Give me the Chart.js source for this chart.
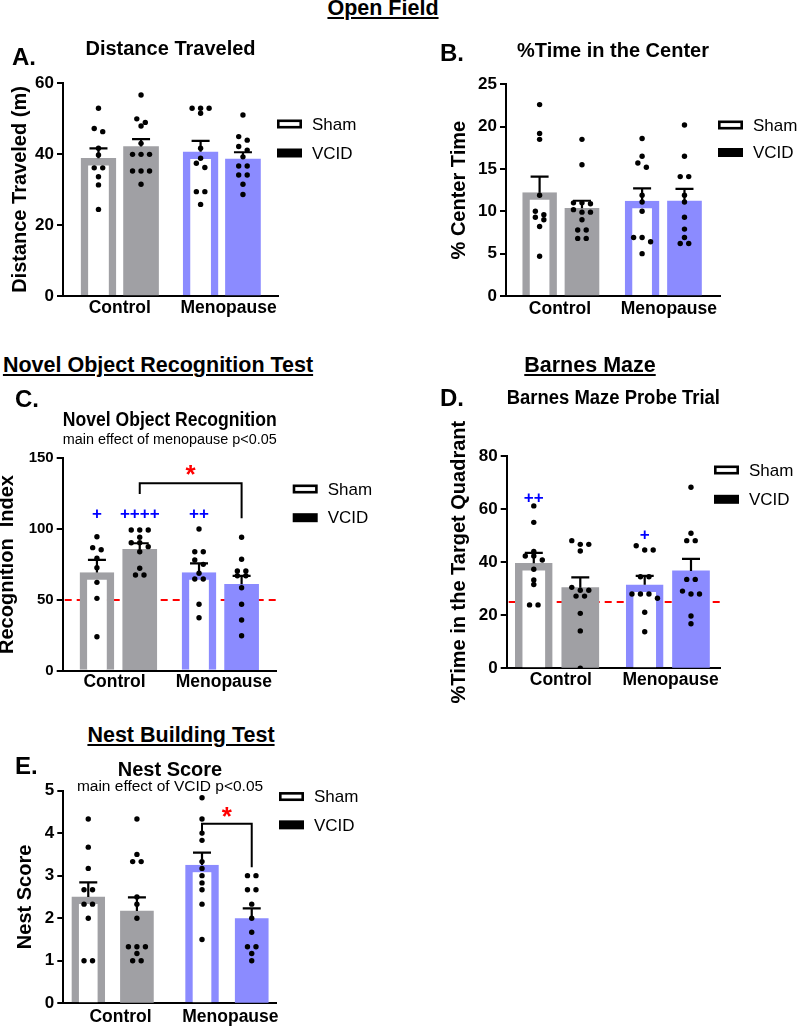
<!DOCTYPE html>
<html>
<head>
<meta charset="utf-8">
<script src="https://cdn.jsdelivr.net/npm/chart.js@4.4.1/dist/chart.umd.min.js"></script>
<style>
html,body{margin:0;padding:0;background:#fff}
body{width:797px;height:1026px;position:relative;overflow:hidden;font-family:'Liberation Sans',Arial,sans-serif;color:#000}
canvas{position:absolute}
.hd{position:absolute;transform:translateX(-50%);font-weight:bold;font-size:21.5px;line-height:1;white-space:nowrap;
  text-decoration:underline;text-decoration-thickness:2px;text-underline-offset:2px}
.lt{position:absolute;font-weight:bold;font-size:24px;line-height:1}
</style>
</head>
<body>
<canvas id="cA" width="400" height="300" style="left:0;top:30px"></canvas>
<canvas id="cB" width="357" height="300" style="left:440px;top:30px"></canvas>
<canvas id="cC" width="405" height="305" style="left:-5px;top:395px"></canvas>
<canvas id="cD" width="357" height="340" style="left:440px;top:375px"></canvas>
<canvas id="cE" width="400" height="274" style="left:0;top:752px"></canvas>

<div class="hd" style="left:383px;top:-2px">Open Field</div>
<div class="hd" style="left:158px;top:355px">Novel Object Recognition Test</div>
<div class="hd" style="left:590px;top:355px">Barnes Maze</div>
<div class="hd" style="left:181px;top:725px">Nest Building Test</div>
<div class="lt" style="left:12px;top:45px">A.</div>
<div class="lt" style="left:440px;top:41px">B.</div>
<div class="lt" style="left:15px;top:387px">C.</div>
<div class="lt" style="left:440px;top:386px">D.</div>
<div class="lt" style="left:15px;top:754px">E.</div>

<script>
// slots: Control-Sham, Control-VCID, Menopause-Sham, Menopause-VCID
var groups = ['Control', 'Menopause'];
var series = ['Sham', 'VCID'];

// A. distance traveled (m)
var distMean = [38.8, 42.1, 40.6, 38.6];
var distSem = [2.8, 2.1, 3.1, 1.9];
var distPts = [
  [52.9, 47.2, 46.3, 41.6, 39.7, 36.1, 36.1, 33.6, 31.3, 24.4],
  [56.6, 49.9, 48.9, 47.9, 43.0, 39.9, 39.9, 39.9, 35.2, 35.2, 35.2, 31.5],
  [52.9, 52.9, 52.9, 51.5, 41.6, 38.8, 37.4, 36.2, 29.4, 29.4, 25.8],
  [51.0, 44.9, 43.9, 42.1, 41.1, 39.2, 36.6, 36.6, 34.1, 34.1, 31.5, 28.6]
];

// B. % time in the center
var centerMean = [12.2, 10.35, 11.2, 11.2];
var centerSem = [1.9, 0.9, 1.5, 1.45];
var centerPts = [
  [22.6, 19.2, 18.5, 11.9, 10.0, 9.6, 9.3, 9.0, 8.2, 4.7],
  [18.5, 15.5, 11.0, 11.0, 10.9, 10.2, 9.9, 9.9, 9.0, 7.8, 7.8, 6.8, 6.8],
  [18.6, 16.5, 15.7, 15.2, 11.9, 11.1, 10.0, 6.9, 6.9, 6.4, 5.0],
  [20.2, 16.5, 14.1, 14.1, 11.9, 11.1, 9.3, 7.9, 6.9, 6.2, 6.2]
];

// C. novel object recognition index
var norMean = [69.3, 85.7, 69.3, 61.0];
var norSem = [8.9, 4.3, 6.5, 5.9];
var norPts = [
  [94.6, 86.9, 85.4, 79.4, 72.7, 62.4, 51.1, 24.0],
  [99.4, 99.4, 99.4, 94.2, 90.4, 90.4, 87.6, 84.0, 72.3, 67.6, 67.6],
  [100.1, 84.0, 84.0, 78.2, 75.1, 68.8, 64.8, 64.8, 46.9, 37.4],
  [94.2, 78.7, 70.4, 70.4, 67.1, 67.1, 58.6, 46.9, 35.8, 24.7]
];
var norChance = 50;
var norPlus = ['+', '++++', '++', ''];
var norPlusY = [110.4, 110.4, 110.4, null];
var norBracket = [1, 3];
var norBracketY = [124.8, 132.3, 107.6];   // left leg end, top, right leg end
var norStarY = 141.8;

// D. barnes maze, % time in target quadrant
var barnesMean = [39.6, 30.4, 31.5, 36.7];
var barnesSem = [3.9, 3.9, 3.3, 4.5];
var barnesPts = [
  [61.2, 55.0, 44.0, 42.3, 42.3, 40.8, 37.3, 33.3, 31.6, 23.9, 23.9],
  [48.1, 46.7, 46.7, 44.2, 30.5, 29.4, 29.4, 27.2, 27.2, 20.7, 14.1, 0],
  [46.2, 44.6, 44.6, 34.5, 34.5, 28.0, 28.0, 28.0, 26.4, 21.1, 13.8],
  [68.2, 50.9, 48.1, 48.1, 33.5, 33.5, 29.1, 28.0, 28.0, 19.7, 16.8]
];
var barnesChance = 25;
var barnesPlus = ['++', '', '+', ''];
var barnesPlusY = [64.0, null, 50.2, null];

// E. nest score
var nestMean = [2.5, 2.17, 3.25, 1.99];
var nestSem = [0.34, 0.32, 0.29, 0.24];
var nestPts = [
  [4.33, 3.67, 3.17, 2.67, 2.67, 2.33, 2.33, 2.0, 1.0, 1.0],
  [4.33, 3.5, 3.33, 3.33, 2.5, 2.33, 2.0, 1.33, 1.33, 1.33, 1.17, 1.0, 1.0],
  [4.83, 4.33, 4.0, 3.83, 3.33, 3.17, 3.0, 2.83, 2.67, 2.33, 1.5],
  [3.0, 3.0, 2.67, 2.67, 2.33, 2.0, 1.67, 1.33, 1.33, 1.17, 1.0]
];
var nestBracket = [2, 3];
var nestBracketY = [3.95, 4.22, 3.2];
var nestStarY = 4.49;

var FONT = "'Liberation Sans', Arial, Helvetica, sans-serif";
var GRAY = '#a0a0a4', BLUE = '#8b8bff', RED = '#ff0000', PLUS = '#0000ff';
var SLOT_COLORS = [GRAY, GRAY, BLUE, BLUE];
var ROW_GAP = 4.5, STEP = 8.5;

Chart.defaults.font.family = FONT;
Chart.defaults.color = '#000';

// GraphPad-like scatter: points at nearly the same height go side by side
function swarm(chart) {
  var xs = chart.scales.x, ys = chart.scales.y;
  chart.data.datasets.forEach(function (ds) {
    if (ds.type !== 'scatter') return;
    var cx = xs.getPixelForValue(ds.slot);
    var pts = ds.values.map(function (v) { return { v: v, py: ys.getPixelForValue(v) }; })
      .sort(function (a, b) { return a.py - b.py; });
    var rows = [], row = null;
    pts.forEach(function (p) {
      if (!row || p.py - row[0].py > ROW_GAP) { row = [p]; rows.push(row); } else row.push(p);
    });
    var out = [];
    rows.forEach(function (r) {
      r.forEach(function (p, i) {
        out.push({ x: xs.getValueForPixel(cx + (i - (r.length - 1) / 2) * STEP), y: p.v });
      });
    });
    ds.data = out;
  });
  chart.update('none');
}

function build(id, d, c) {
  var deco = {
    id: 'deco',
    beforeDatasetsDraw: function (chart) {
      if (d.chance == null) return;
      var ctx = chart.ctx, a = chart.chartArea, y = chart.scales.y.getPixelForValue(d.chance);
      ctx.save();
      ctx.strokeStyle = RED; ctx.lineWidth = 2; ctx.setLineDash([7, 5]);
      ctx.beginPath(); ctx.moveTo(a.left + 2, y); ctx.lineTo(a.right, y); ctx.stroke();
      ctx.restore();
    },
    afterDatasetDraw: function (chart, args) {
      var ds = chart.data.datasets[args.index];
      if (!ds.sem) return;
      var ctx = chart.ctx, ys = chart.scales.y;
      ctx.save();
      ctx.strokeStyle = '#000'; ctx.lineWidth = 2.2;
      args.meta.data.forEach(function (bar, i) {
        var top = ys.getPixelForValue(ds.data[i].y + ds.sem[i]);
        ctx.beginPath();
        ctx.moveTo(bar.x, bar.y); ctx.lineTo(bar.x, top);
        ctx.moveTo(bar.x - 9, top); ctx.lineTo(bar.x + 9, top);
        ctx.stroke();
      });
      ctx.restore();
    },
    afterDatasetsDraw: function (chart) {
      var ctx = chart.ctx, xs = chart.scales.x, ys = chart.scales.y;
      ctx.save();
      ctx.textAlign = 'center'; ctx.textBaseline = 'middle';
      if (d.plus) {
        ctx.fillStyle = PLUS; ctx.font = 'bold 17px ' + FONT;
        d.plus.forEach(function (t, k) {
          if (t) ctx.fillText(t, xs.getPixelForValue(c.slots[k]), ys.getPixelForValue(d.plusY[k]));
        });
      }
      if (d.bracket) {
        var xa = xs.getPixelForValue(c.slots[d.bracket[0]]), xb = xs.getPixelForValue(c.slots[d.bracket[1]]);
        ctx.strokeStyle = '#000'; ctx.lineWidth = 2;
        ctx.beginPath();
        ctx.moveTo(xa, ys.getPixelForValue(d.bracketY[0]));
        ctx.lineTo(xa, ys.getPixelForValue(d.bracketY[1]));
        ctx.lineTo(xb, ys.getPixelForValue(d.bracketY[1]));
        ctx.lineTo(xb, ys.getPixelForValue(d.bracketY[2]));
        ctx.stroke();
        ctx.fillStyle = RED; ctx.font = 'bold 26px ' + FONT;
        ctx.fillText('*', (xa + xb) / 2, ys.getPixelForValue(d.starY) + 6);
      }
      ctx.restore();
    },
    afterDraw: function (chart) {
      // side legend: hollow box = Sham, filled box = VCID
      var ctx = chart.ctx, a = chart.chartArea;
      var x = a.right + c.lg[0], y = a.top + c.lg[1];
      ctx.save();
      ctx.font = '17px ' + FONT; ctx.textBaseline = 'middle'; ctx.fillStyle = '#000';
      chart.data.datasets.forEach(function (ds) {
        if (ds.type !== 'bar') return;
        if (ds.hollow) {
          ctx.strokeStyle = '#000'; ctx.lineWidth = 2.6;
          ctx.strokeRect(x + 1.3, y - 4.5 + 1.3, 25 - 2.6, 9 - 2.6);
        } else {
          ctx.fillRect(x, y - 4.5, 25, 9);
        }
        ctx.fillText(ds.label, x + 35, y + 1);
        y += c.lg[2];
      });
      ctx.restore();
    }
  };

  var datasets = [
    { type: 'bar', label: series[0], hollow: true,
      data: [{ x: c.slots[0], y: d.mean[0] }, { x: c.slots[2], y: d.mean[2] }],
      sem: [d.sem[0], d.sem[2]],
      backgroundColor: '#fff', borderColor: [GRAY, BLUE], borderWidth: 7.5, borderSkipped: 'start',
      barThickness: c.barW, grouped: false, order: 2 },
    { type: 'bar', label: series[1],
      data: [{ x: c.slots[1], y: d.mean[1] }, { x: c.slots[3], y: d.mean[3] }],
      sem: [d.sem[1], d.sem[3]],
      backgroundColor: [GRAY, BLUE], borderWidth: 0,
      barThickness: c.barW, grouped: false, order: 2 }
  ];
  d.pts.forEach(function (vals, k) {
    datasets.push({
      type: 'scatter', slot: c.slots[k], values: vals,
      data: vals.map(function (v) { return { x: c.slots[k], y: v }; }),
      pointRadius: 2.7, pointBackgroundColor: '#000', pointBorderWidth: 0, order: 1
    });
  });

  var chart = new Chart(document.getElementById(id), {
    type: 'bar',
    data: { datasets: datasets },
    options: {
      responsive: false, animation: false, events: [], devicePixelRatio: 1,
      layout: { padding: { left: 0, right: c.padR, top: 0, bottom: 0 } },
      plugins: {
        legend: { display: false }, tooltip: { enabled: false },
        title: { display: true, text: c.title, fullSize: false, color: '#000',
          font: { size: 20, weight: 'bold', lineHeight: 1 }, padding: c.tPad },
        subtitle: { display: !!c.sub, text: c.sub || '', fullSize: false, color: '#000',
          font: { size: 15.5, weight: 'normal', lineHeight: c.subLH || 1 }, padding: c.sPad || 0 }
      },
      scales: {
        x: {
          type: 'linear', min: 0, max: 100, offset: false, z: 1,
          grid: { display: false, drawTicks: false },
          border: { display: true, color: '#000', width: 2 },
          afterBuildTicks: function (s) { s.ticks = c.groupAt.map(function (v) { return { value: v }; }); },
          afterFit: function (s) { s.height = c.xh; },
          ticks: { autoSkip: false, maxRotation: 0, padding: c.xPad, color: '#000',
            font: { size: 17.5, weight: 'bold' },
            callback: function (v, i) { return groups[i]; } }
        },
        y: {
          min: 0, max: c.yMax,
          grid: { display: true, drawOnChartArea: false, drawTicks: true, tickLength: 6, color: '#000', lineWidth: 2 },
          border: { display: true, color: '#000', width: 2 },
          afterFit: function (s) { s.width = c.yw; },
          ticks: { stepSize: c.yStep, padding: 3, color: '#000', font: { size: c.tick, weight: 'bold' } },
          title: { display: true, text: c.yTitle, color: '#000',
            font: { size: 20, weight: 'bold', lineHeight: 1 }, padding: { top: c.yTPad, bottom: 0 } }
        }
      }
    },
    plugins: [deco]
  });
  swarm(chart);
  return chart;
}

build('cA', { mean: distMean, sem: distSem, pts: distPts }, {
  slots: [16.5, 36.3, 64.0, 83.7], groupAt: [26.4, 77.0], barW: 35,
  yMax: 60, yStep: 20, tick: 17, yTitle: 'Distance Traveled (m)', title: 'Distance Traveled',
  yw: 63, xh: 34, xPad: 1.8, padR: 122, tPad: { top: 9, bottom: 24 }, yTPad: 10, lg: [-1, 41, 29]
});
build('cB', { mean: centerMean, sem: centerSem, pts: centerPts }, {
  slots: [15.7, 35.5, 63.6, 83.4], groupAt: [25.2, 76.1], barW: 34,
  yMax: 25, yStep: 5, tick: 17, yTitle: '% Center Time', title: '%Time in the Center',
  yw: 66, xh: 34, xPad: 2.8, padR: 77, tPad: { top: 11, bottom: 23.3 }, yTPad: 9, lg: [-2, 40.7, 27.5]
});
build('cC', { mean: norMean, sem: norSem, pts: norPts, chance: norChance, plus: norPlus, plusY: norPlusY,
  bracket: norBracket, bracketY: norBracketY, starY: norStarY }, {
  slots: [16.0, 36.0, 63.7, 83.6], groupAt: [24.2, 75.3], barW: 34,
  yMax: 150, yStep: 50, tick: 15, yTitle: 'Recognition  Index', title: 'Novel Object Recognition',
  sub: 'main effect of menopause p<0.05', subLH: 1, sPad: { top: 0, bottom: 11.3 },
  yw: 67.7, xh: 29.3, xPad: 0.5, padR: 123.3, tPad: { top: 15, bottom: 1.5 }, yTPad: 2.5, lg: [16, 30.7, 28.7]
});
build('cD', { mean: barnesMean, sem: barnesSem, pts: barnesPts, chance: barnesChance, plus: barnesPlus, plusY: barnesPlusY }, {
  slots: [12.7, 34.5, 64.7, 86.4], groupAt: [25.4, 76.8], barW: 37,
  yMax: 80, yStep: 20, tick: 17, yTitle: '%Time in the Target Quadrant', title: 'Barnes Maze Probe Trial',
  yw: 66.7, xh: 46.7, xPad: 1, padR: 77, tPad: { top: 13, bottom: 48 }, yTPad: 9, lg: [-6, 14, 29.3]
});
build('cE', { mean: nestMean, sem: nestSem, pts: nestPts, bracket: nestBracket, bracketY: nestBracketY, starY: nestStarY }, {
  slots: [11.7, 34.5, 65.0, 88.3], groupAt: [26.8, 78.3], barW: 33,
  yMax: 5, yStep: 1, tick: 17, yTitle: 'Nest Score', title: 'Nest Score',
  sub: 'main effect of VCID p<0.05', subLH: 0.5, sPad: { top: 0, bottom: 0 },
  yw: 63.3, xh: 22.7, xPad: 2.9, padR: 123.3, tPad: { top: 8, bottom: 2.8 }, yTPad: 15.7, lg: [2.3, 6, 28.3]
});
</script>
</body>
</html>
